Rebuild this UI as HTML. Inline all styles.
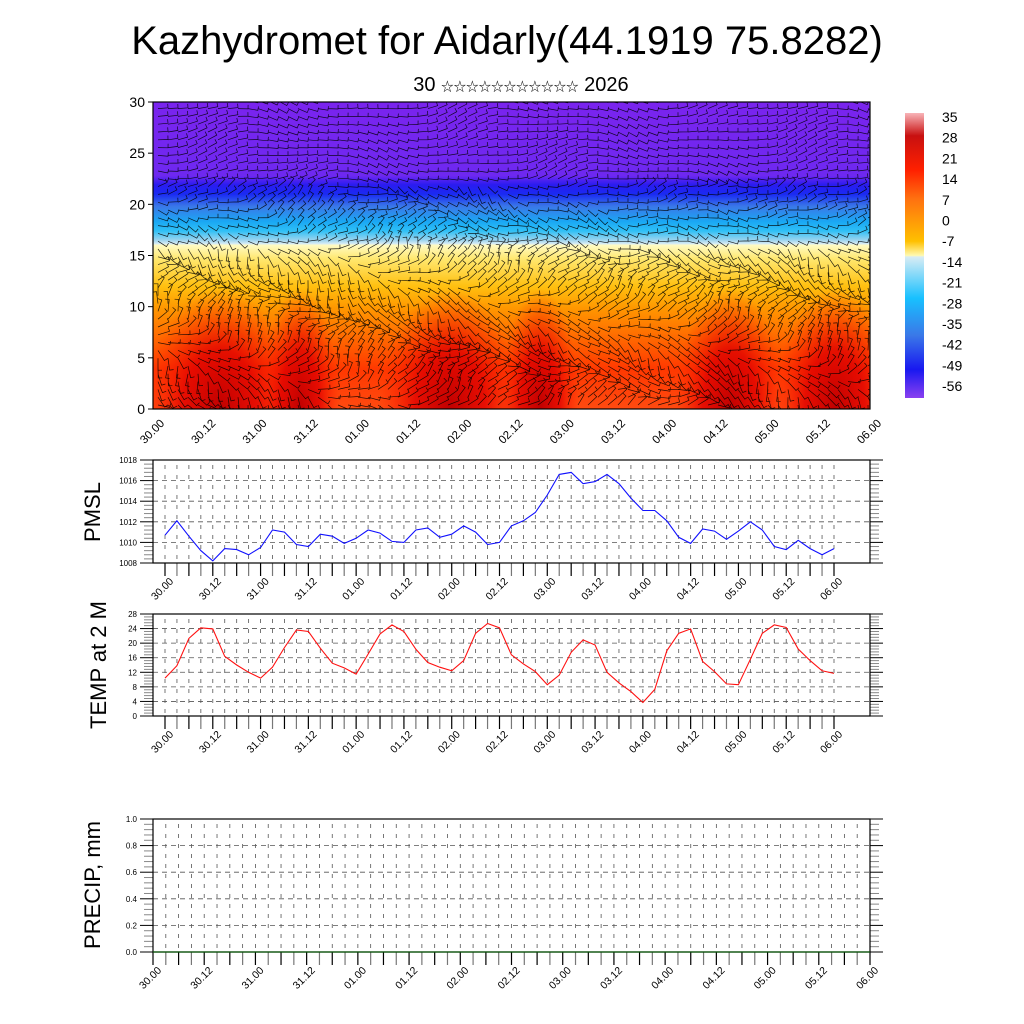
<!DOCTYPE html>
<html><head><meta charset="utf-8"><style>
body{margin:0;background:#fff}
svg{display:block;font-family:"Liberation Sans","Noto Sans CJK SC",sans-serif}
</style></head><body>
<svg id="s" width="1024" height="1024" viewBox="0 0 1024 1024">
<defs>
<linearGradient id="tg" x1="0" y1="0" x2="0" y2="1">
<stop offset="0" stop-color="#7a24ee"/>
<stop offset="0.24" stop-color="#6e28f0"/>
<stop offset="0.27" stop-color="#2a1cf0"/>
<stop offset="0.30" stop-color="#1a2af2"/>
<stop offset="0.34" stop-color="#3a78e8"/>
<stop offset="0.39" stop-color="#1aa8f4"/>
<stop offset="0.42" stop-color="#30c0f6"/>
<stop offset="0.45" stop-color="#9cd4ee"/>
<stop offset="0.462" stop-color="#d8ecf4"/>
<stop offset="0.466" stop-color="#fffbc4"/>
<stop offset="0.51" stop-color="#ffe870"/>
<stop offset="0.60" stop-color="#ffc010"/>
<stop offset="0.67" stop-color="#ff9800"/>
<stop offset="0.77" stop-color="#ff6800"/>
<stop offset="0.87" stop-color="#ff3800"/>
<stop offset="1" stop-color="#ff4a10"/>
</linearGradient>
<radialGradient id="rg" cx="0.5" cy="0.5" r="0.5">
<stop offset="0" stop-color="#c00000" stop-opacity="1"/>
<stop offset="0.5" stop-color="#e00000" stop-opacity="0.8"/>
<stop offset="1" stop-color="#ff2000" stop-opacity="0"/>
</radialGradient>
<linearGradient id="cb" x1="0" y1="0" x2="0" y2="1">
<stop offset="0" stop-color="#f8b4b8"/>
<stop offset="0.08" stop-color="#c81010"/>
<stop offset="0.2" stop-color="#ff2000"/>
<stop offset="0.3" stop-color="#ff7010"/>
<stop offset="0.45" stop-color="#ffc000"/>
<stop offset="0.5" stop-color="#fff9b0"/>
<stop offset="0.505" stop-color="#d8ecf4"/>
<stop offset="0.65" stop-color="#18c0ff"/>
<stop offset="0.78" stop-color="#3a78e8"/>
<stop offset="0.9" stop-color="#1818f0"/>
<stop offset="1" stop-color="#8a40f0"/>
</linearGradient>
<clipPath id="tc"><rect x="153" y="102" width="717" height="307"/></clipPath>
</defs>
<text x="507" y="54" font-size="40" text-anchor="middle">Kazhydromet for Aidarly(44.1919 75.8282)</text>
<text x="521" y="91" font-size="20" text-anchor="middle">30 <tspan font-size="12.5">☆☆☆☆☆☆☆☆☆☆☆</tspan> 2026</text>
<g id="topg"></g>
<g id="cbar"></g>
<g id="p1"></g>
<g id="p2"></g>
<g id="p3"></g>
<text transform="translate(100,512) rotate(-90)" font-size="22" text-anchor="middle">PMSL</text>
<text transform="translate(106,665) rotate(-90)" font-size="22" text-anchor="middle">TEMP at 2 M</text>
<text transform="translate(100,885) rotate(-90)" font-size="22" text-anchor="middle">PRECIP, mm</text>
</svg>
<script>
const dayLabels=["30.00","30.12","31.00","31.12","01.00","01.12","02.00","02.12","03.00","03.12","04.00","04.12","05.00","05.12","06.00"];
const pmsl=[1010.7,1012.1,1010.6,1009.2,1008.2,1009.4,1009.3,1008.8,1009.5,1011.2,1011.0,1009.8,1009.6,1010.8,1010.6,1009.9,1010.4,1011.2,1010.9,1010.1,1010.0,1011.2,1011.4,1010.5,1010.8,1011.6,1011.0,1009.8,1010.0,1011.6,1012.1,1012.9,1014.6,1016.6,1016.8,1015.7,1015.9,1016.6,1015.7,1014.3,1013.1,1013.1,1012.1,1010.5,1009.9,1011.3,1011.1,1010.3,1011.1,1012.0,1011.2,1009.6,1009.3,1010.2,1009.4,1008.8,1009.4];
const temp=[10.4,13.8,21.3,24.2,23.9,16.4,14.0,12.0,10.4,13.4,18.8,23.6,23.2,18.6,14.5,13.2,11.5,17.0,22.5,25.0,23.2,18.3,14.7,13.4,12.4,15.2,22.7,25.4,24.2,16.8,14.3,12.2,8.6,11.2,17.5,20.9,19.5,12.0,9.1,6.7,3.7,7.3,17.9,22.7,23.9,15.0,12.2,8.8,8.6,15.6,22.7,25.0,24.3,18.4,15.2,12.4,11.7];
const pmslTicks=[1008,1010,1012,1014,1016,1018];
const tempTicks=[0,4,8,12,16,20,24,28];
const precipTicks=[0.0,0.2,0.4,0.6,0.8,1.0];
const heightTicks=[0,5,10,15,20,25,30];
const cbLabels=[35,28,21,14,7,0,-7,-14,-21,-28,-35,-42,-49,-56];

const NS="http://www.w3.org/2000/svg";
function mk(p,t,a){const e=document.createElementNS(NS,t);for(const k in a)e.setAttribute(k,a[k]);p.appendChild(e);return e;}

const topG=document.getElementById('topg');
const TX0=153,TX1=870,TY0=102,TY1=409;
const hy=h=>TY1-(h/30)*(TY1-TY0);
const tx=i=>TX0+i*(TX1-TX0)/14;
let bg=mk(topG,'rect',{x:TX0,y:TY0,width:TX1-TX0,height:TY1-TY0,fill:'url(#tg)'});


const g=mk(topG,'g',{'clip-path':'url(#tc)'});
[[220,75],[300,40],[450,70],[540,40],[730,55],[835,60]].forEach(p=>{
  const r=mk(g,'ellipse',{cx:p[0],cy:TY1,rx:p[1],ry:120,fill:'url(#rg)'});
  
  
});
let d='';
for(let j=0;j<40;j++){for(let i=0;i<72;i++){
  const x=TX0+5+i*10,y=TY1-4-j*7.8;
  const h=30*(TY1-y)/(TY1-TY0);
  let a=0.3*Math.sin(i*0.21+j*0.3)+0.2*Math.cos(i*0.53-j*0.17);
  if(h<22)a+=(h<16?1.1:0.5)*Math.sin(i*0.12+j*0.37)+0.3*Math.sin(i*0.9+j*1.3);
  const L=h>16?10:12;
  const x2=x+L*Math.cos(a),y2=y+L*Math.sin(a);
  d+=`M${x.toFixed(1)} ${y.toFixed(1)}L${x2.toFixed(1)} ${y2.toFixed(1)}l${(4*Math.sin(a)).toFixed(1)} ${(-4*Math.cos(a)).toFixed(1)}`;
}}
let wb=mk(g,'path',{d:d,stroke:'#000',fill:'none','stroke-width':0.7,'stroke-opacity':0.85});


mk(topG,'rect',{x:TX0,y:TY0,width:TX1-TX0,height:TY1-TY0,fill:'none',stroke:'#000','stroke-width':1.2});
heightTicks.forEach(h=>{
  mk(topG,'line',{x1:TX0-5,x2:TX0,y1:hy(h),y2:hy(h),stroke:'#000'});
  const t=mk(topG,'text',{x:TX0-8,y:hy(h)+5,'font-size':14,'text-anchor':'end'});t.textContent=h;
  
  
});
dayLabels.forEach((l,i)=>{
  const x=tx(i);
  const t=mk(topG,'text',{transform:`translate(${x+12},${TY1+15}) rotate(-45)`,'font-size':11.5,'text-anchor':'end'});t.textContent=l;
  
  
});
const cbar=document.getElementById('cbar');
mk(cbar,'rect',{x:905,y:113,width:19,height:285,fill:'url(#cb)'});
cbLabels.forEach((v,i)=>{
  const t=mk(cbar,'text',{x:942,y:122+i*20.7,'font-size':14});t.textContent=v;
  
  
});
function panel(id,y0,y1,vmin,vmax,ticks,data,color,fmt,px0,px1,n,name){
  const p=document.getElementById(id);
  const X0=153,X1=870;
  const yv=v=>y1-(v-vmin)/(vmax-vmin)*(y1-y0);
  const xv=i=>px0+i*(px1-px0)/(n-1);
  for(let i=0;i<n;i++){
    const x=xv(i);
    mk(p,'line',{x1:x,x2:x,y1:y0+5,y2:y1,stroke:'#555','stroke-width':0.8,'stroke-dasharray':'4 6'});
    mk(p,'line',{x1:x,x2:x,y1:y1,y2:y1+13,stroke:i%2?'#777':'#000','stroke-width':1.2});
  }
  ticks.forEach((v,k)=>{
    if(k>0&&k<ticks.length-1)mk(p,'line',{x1:X0,x2:X1,y1:yv(v),y2:yv(v),stroke:'#555','stroke-width':0.8,'stroke-dasharray':'5 4'});
    mk(p,'line',{x1:X0-13,x2:X0,y1:yv(v),y2:yv(v),stroke:'#000','stroke-width':1});
    mk(p,'line',{x1:X1,x2:X1+13,y1:yv(v),y2:yv(v),stroke:'#000','stroke-width':1});
    const t=mk(p,'text',{x:X0-16,y:yv(v)+3,'font-size':8,'text-anchor':'end'});t.textContent=fmt(v);
    
    
    if(k<ticks.length-1)for(let m=1;m<5;m++){const yy=yv(v+(ticks[1]-ticks[0])*m/5);
      mk(p,'line',{x1:X0-9,x2:X0,y1:yy,y2:yy,stroke:'#888'});
      mk(p,'line',{x1:X1,x2:X1+9,y1:yy,y2:yy,stroke:'#888'});}
  });
  mk(p,'rect',{x:X0,y:y0,width:X1-X0,height:y1-y0,fill:'none',stroke:'#000','stroke-width':1.2});
  if(data){
    const l=mk(p,'polyline',{points:data.map((v,i)=>xv(i).toFixed(1)+','+yv(v).toFixed(1)).join(' '),fill:'none',stroke:color,'stroke-width':1.1});
    
    
  }
  dayLabels.forEach((lab,i)=>{
    const x=xv(i*4);
    const t=mk(p,'text',{transform:`translate(${x+9},${y1+19}) rotate(-45)`,'font-size':10.5,'text-anchor':'end'});t.textContent=lab;
    
    
  });
}
panel('p1',460,563,1008,1018,pmslTicks,pmsl,'#1010ff',v=>v,165,834,57,'pmsl-line');
panel('p2',614,716,0,28,tempTicks,temp,'#ff1010',v=>v,165,834,57,'temp-line');
panel('p3',819,952,0,1,precipTicks,null,'',v=>v.toFixed(1),153,870,57,'precip-line');
const z=mk(document.getElementById('p3'),'line',{x1:153,x2:870,y1:952,y2:952,stroke:'#0a5a0a','stroke-width':1.2});


</script>
</body></html>
